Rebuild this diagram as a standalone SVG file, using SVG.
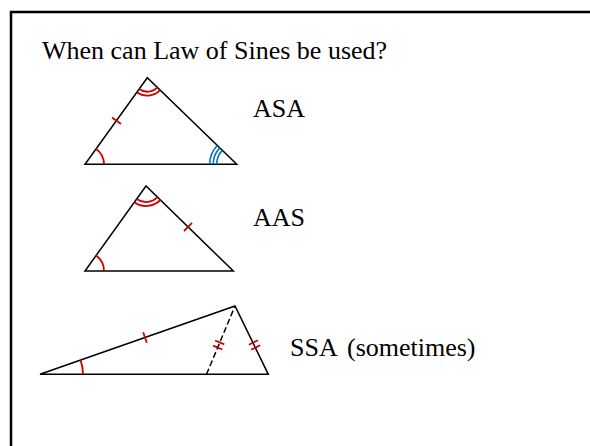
<svg xmlns="http://www.w3.org/2000/svg" width="590" height="446" viewBox="0 0 590 446">
<style>
.t{font-family:"Liberation Serif","Times New Roman",serif;font-size:26px;fill:#000}
.s{fill:none;stroke:#000;stroke-width:1.5}
.r{fill:none;stroke:#cc0000;stroke-width:1.8}
.b{fill:none;stroke:#0070c0;stroke-width:1.6}
</style>
<rect width="590" height="446" fill="#fff"/>
<path d="M11,446 V12 H590" fill="none" stroke="#000" stroke-width="2.5"/>
<text class="t" x="42" y="58.5">When can Law of Sines be used?</text>
<g id="asa">
<polygon class="s" points="147.3,77.7 85,164.3 236.7,164.3"/>
<path class="r" d="M104,164.3 A19,19 0 0 0 96.1,148.9"/>
<path class="r" d="M139.1,89.1 A14,14 0 0 0 157.4,87.4 M136.8,92.3 A18,18 0 0 0 160.2,90.2"/>
<path class="b" d="M216.7,164.3 A20,20 0 0 1 222.3,150.4 M213.2,164.3 A23.5,23.5 0 0 1 219.8,147.9 M209.7,164.3 A27,27 0 0 1 217.3,145.5"/>
<line class="r" x1="112" y1="117.6" x2="121" y2="124"/>
<text class="t" x="253" y="116.5">ASA</text>
</g>
<g id="aas">
<polygon class="s" points="146,186 85,271 233.3,271"/>
<path class="r" d="M104,271 A19,19 0 0 0 96.1,255.6"/>
<path class="r" d="M136.7,199 A16,16 0 0 0 157.5,197.2 M134.3,202.3 A20,20 0 0 0 160.3,200"/>
<line class="r" x1="184" y1="231" x2="192" y2="222.8"/>
<text class="t" x="253" y="226">AAS</text>
</g>
<g id="ssa">
<polygon class="s" points="40,374.3 235,306 268.3,374.3"/>
<line class="s" x1="206.5" y1="374.3" x2="235" y2="306" stroke-dasharray="6,3"/>
<path class="r" d="M83,374.3 A43,43 0 0 0 80.6,360.1"/>
<line class="r" x1="143.2" y1="332.3" x2="146.8" y2="342.7"/>
<line class="r" x1="215.1" y1="340.5" x2="224.3" y2="344.3"/>
<line class="r" x1="213.1" y1="345.7" x2="222.3" y2="349.5"/>
<line class="r" x1="248.9" y1="344.7" x2="257.9" y2="340.3"/>
<line class="r" x1="251.1" y1="349.7" x2="260.1" y2="345.3"/>
<text class="t" x="290" y="356">SSA</text>
<text class="t" x="347" y="356">(sometimes)</text>
</g>
</svg>
